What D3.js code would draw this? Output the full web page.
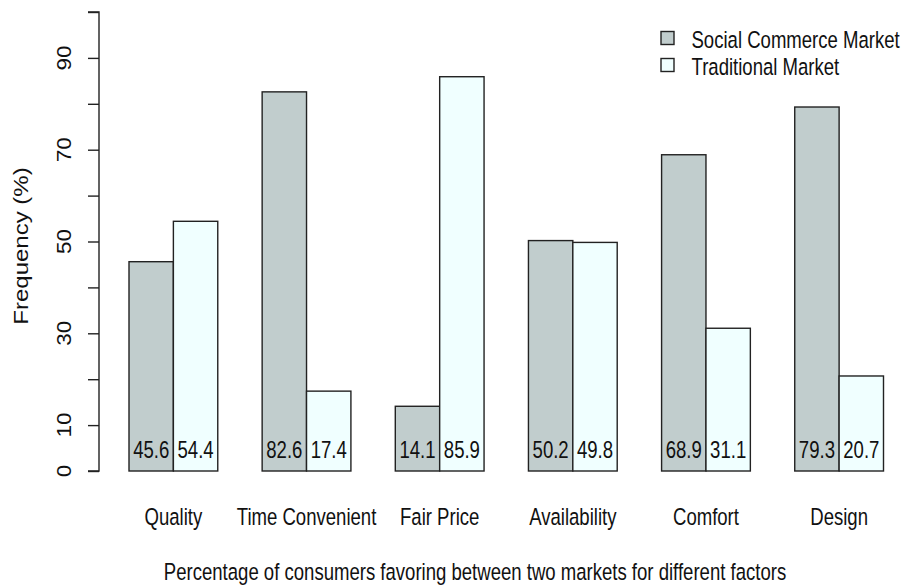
<!DOCTYPE html>
<html>
<head>
<meta charset="utf-8">
<script src="https://cdn.jsdelivr.net/npm/d3@7"></script>
<style>
  html, body { margin: 0; padding: 0; background: #ffffff; }
  svg { display: block; }
  text { font-family: "Liberation Sans", Arial, sans-serif; fill: #111; }
</style>
</head>
<body>
<svg id="chart" width="909" height="585"></svg>
<script>
// ---- data ----
const categories = ["Quality", "Time Convenient", "Fair Price", "Availability", "Comfort", "Design"];
const seriesNames = ["Social Commerce Market", "Traditional Market"];
const socialCommerce = [45.6, 82.6, 14.1, 50.2, 68.9, 79.3];
const traditional = [54.4, 17.4, 85.9, 49.8, 31.1, 20.7];
const yTicks = [0, 10, 20, 30, 40, 50, 60, 70, 80, 90, 100];
const yTickLabels = [0, 10, 30, 50, 70, 90];
const yLabel = "Frequency (%)";
const xLabel = "Percentage of consumers favoring between two markets for different factors";
const colors = ["#C1CDCD", "#F0FFFF"];

// ---- layout ----
const W = 909, H = 585;
const FS = 23.5, SX = 0.79;
const svg = d3.select("#chart");

const x0 = d3.scaleBand().domain(categories).range([129, 883.5]).paddingInner(1/3).paddingOuter(0);
const x1 = d3.scaleBand().domain(seriesNames).range([0, x0.bandwidth()]).padding(0);
const y = d3.scaleLinear().domain([0, 100]).range([471, 12]);
const color = d3.scaleOrdinal().domain(seriesNames).range(colors);

const seriesValues = [socialCommerce, traditional];
const rows = categories.map((c, i) => ({
  cat: c,
  vals: seriesNames.map((s, j) => ({ series: s, value: seriesValues[j][i] }))
}));

function txt(parent, str, x, yy, opts = {}) {
  const rot = opts.rotate ? ` rotate(${opts.rotate})` : "";
  const sx = opts.sx || SX;
  return parent.append("text")
    .attr("transform", `translate(${x},${yy}) scale(${sx},1)${rot}`)
    .attr("text-anchor", opts.anchor || "middle")
    .attr("dominant-baseline", opts.baseline || "auto")
    .style("font-size", (opts.size || FS) + "px")
    .text(str);
}

// ---- bars ----
const groups = svg.append("g").selectAll("g").data(rows).join("g")
  .attr("transform", d => `translate(${x0(d.cat)},0)`);

groups.selectAll("rect").data(d => d.vals).join("rect")
  .attr("x", d => x1(d.series))
  .attr("y", d => y(d.value))
  .attr("width", x1.bandwidth())
  .attr("height", d => y(0) - y(d.value))
  .attr("fill", d => color(d.series))
  .attr("stroke", "#222")
  .attr("stroke-width", 1.4);

// value labels inside bars
rows.forEach(r => {
  r.vals.forEach(v => {
    txt(svg, v.value.toFixed(1), x0(r.cat) + x1(v.series) + x1.bandwidth() / 2, y(4.6), { baseline: "central" });
  });
});

// category labels
categories.forEach(c => {
  txt(svg, c, x0(c) + x0.bandwidth() / 2, 525);
});

// ---- y axis ----
const yAxis = d3.axisLeft(y).tickValues(yTicks).tickSize(11).tickFormat("");
const ya = svg.append("g").attr("transform", "translate(99,0)").call(yAxis);
ya.select(".domain").attr("stroke", "#222").attr("stroke-width", 1.4).attr("d", `M-11,${y(100)}H0V${y(0)}H-11`);
ya.selectAll(".tick line").attr("stroke", "#222").attr("stroke-width", 1.4);

yTickLabels.forEach(t => {
  txt(svg, String(t), 64.5, y(t), { rotate: -90, baseline: "central", size: 22.5, sx: 0.9 });
});

// axis titles
txt(svg, yLabel, 20.5, 246, { rotate: -90, baseline: "central", size: 24, sx: 0.88 });
txt(svg, xLabel, 475, 580);

// ---- legend ----
const lg = svg.append("g");
seriesNames.forEach((s, i) => {
  const cy = 38 + i * 27;
  lg.append("rect")
    .attr("x", 661).attr("y", cy - 6.5)
    .attr("width", 13).attr("height", 13)
    .attr("fill", color(s)).attr("stroke", "#222").attr("stroke-width", 1.4);
  txt(lg, s, 691.5, cy + 2, { anchor: "start", baseline: "central" });
});
</script>
</body>
</html>
